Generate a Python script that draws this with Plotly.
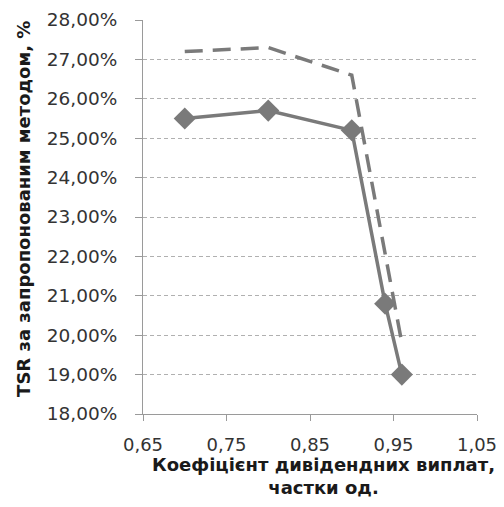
import plotly.graph_objects as go

x_solid = [0.70, 0.80, 0.90, 0.94, 0.96]
y_solid = [25.5, 25.7, 25.2, 20.8, 19.0]
x_dash = [0.70, 0.80, 0.90, 0.94, 0.96]
y_dash = [27.2, 27.3, 26.6, 22.0, 19.8]

x_title = "Коефіцієнт дивідендних виплат,<br>частки од."
y_title = "TSR за запропонованим методом, %"

gray = "#7a7a7a"
fig = go.Figure()
fig.add_trace(go.Scatter(x=x_dash, y=y_dash, mode="lines",
                         line=dict(color=gray, width=3.5, dash="18px,10px"),
                         showlegend=False))
fig.add_trace(go.Scatter(x=x_solid, y=y_solid, mode="lines+markers",
                         line=dict(color=gray, width=3.5),
                         marker=dict(symbol="diamond", size=17, color=gray),
                         showlegend=False))

fig.update_layout(
    width=504, height=507,
    margin=dict(l=143, r=27, t=20, b=93, autoexpand=False),
    paper_bgcolor="white", plot_bgcolor="white",
    separators=", ",
    font=dict(family="DejaVu Sans", size=18, color="#333333"),
    xaxis=dict(range=[0.65, 1.05], dtick=0.1, tick0=0.65, tickformat=".2f",
               showgrid=False, showline=True, linecolor="#9a9a9a", linewidth=1,
               ticks="outside", ticklen=6, tickcolor="#9a9a9a", zeroline=False,
               automargin=False, ticklabelstandoff=8, tickfont=dict(size=18)),
    yaxis=dict(range=[18, 28], dtick=1, tickformat=".2f", ticksuffix="%",
               showgrid=True, gridcolor="#b0b0b0", griddash="4px,3px", gridwidth=1,
               showline=True, linecolor="#9a9a9a", linewidth=1,
               ticks="outside", ticklen=7, tickcolor="#9a9a9a", zeroline=False,
               automargin=False, ticklabelstandoff=14, tickfont=dict(size=18.5)),
    annotations=[
        dict(text="<b>" + x_title + "</b>", xref="paper", yref="paper",
             x=0.54, y=-0.097, xanchor="center", yanchor="top", showarrow=False,
             font=dict(size=18, color="#1a1a1a"), align="center"),
        dict(text="<b>" + y_title + "</b>", xref="paper", yref="paper",
             x=-0.36, y=0.52, xanchor="center", yanchor="middle", showarrow=False,
             textangle=-90, font=dict(size=18, color="#1a1a1a")),
    ],
)
fig.write_html("out.html", config={"displayModeBar": False},
               post_script="document.body.style.margin='0';")
